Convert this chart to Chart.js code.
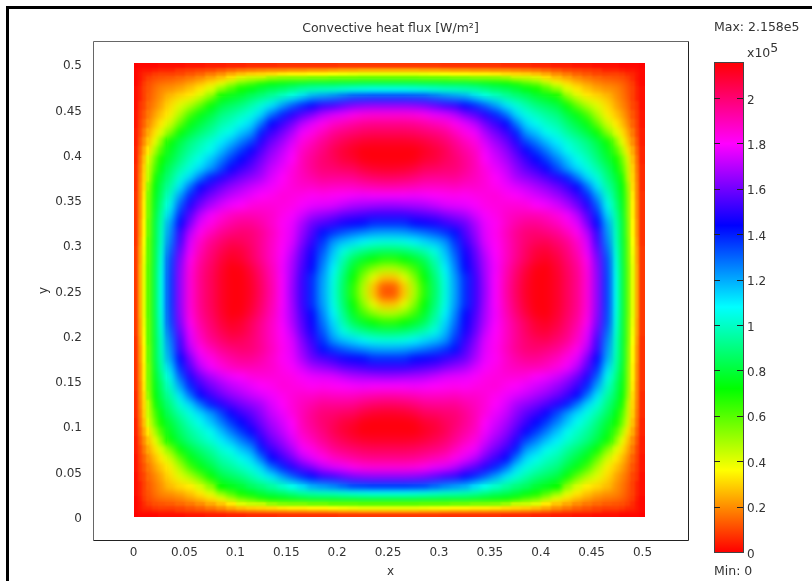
<!DOCTYPE html>
<html>
<head>
<meta charset="utf-8">
<title>Convective heat flux</title>
<script src="https://cdn.jsdelivr.net/npm/chart.js@4"></script>
<style>
    html, body { margin: 0; background: #fff; overflow: hidden; }
    #page { position: relative; width: 812px; height: 581px; }
    #edge { position: absolute; left: 6px; top: 6px; right: 0; bottom: 0; border-left: 3px solid #000; border-top: 3px solid #000; }
    #mapChart { position: absolute; left: 0; top: 0; }
    #barChart { position: absolute; left: 700px; top: 0; }
</style>
</head>
<body>
<div id="page">
    <div id="edge"></div>
    <canvas id="mapChart" width="781" height="581"></canvas>
    <canvas id="barChart" width="112" height="581"></canvas>
</div>
<script>
const xTicks = [0, 0.05, 0.1, 0.15, 0.2, 0.25, 0.3, 0.35, 0.4, 0.45, 0.5];
const yTicks = [0, 0.05, 0.1, 0.15, 0.2, 0.25, 0.3, 0.35, 0.4, 0.45, 0.5];
const barTicks = [0, 0.2, 0.4, 0.6, 0.8, 1, 1.2, 1.4, 1.6, 1.8, 2];
const fluxMin = 0;
const fluxMax = 2.158;

// cell centres, distance from the wall up to the middle of the square
const wallDist = [0.002, 0.006, 0.01, 0.015, 0.021, 0.027, 0.035, 0.045, 0.055, 0.065, 0.075, 0.085, 0.095, 0.105,
    0.115, 0.125, 0.135, 0.145, 0.155, 0.165, 0.175, 0.185, 0.195, 0.205, 0.215, 0.225, 0.235, 0.245];

// flux in 1e5 W/m2, one eighth of the square (it is symmetric)
const fluxRows = [
    [0],
    [.01, .02],
    [.01, .03, .05],
    [.01, .03, .06, .09],
    [.01, .04, .08, .11, .14],
    [.02, .05, .09, .12, .16, .19],
    [.02, .05, .09, .13, .17, .21, .27],
    [.02, .07, .10, .15, .19, .24, .31, .40],
    [.03, .08, .12, .17, .23, .28, .34, .47, .62],
    [.03, .09, .14, .20, .27, .33, .42, .58, .74, .81],
    [.04, .10, .17, .24, .32, .41, .53, .72, .81, .88, .94],
    [.04, .12, .20, .28, .39, .53, .72, .82, .90, .96, 1.02, 1.10],
    [.05, .14, .24, .33, .48, .62, .76, .86, .94, 1.00, 1.06, 1.17, 1.27],
    [.05, .16, .27, .41, .57, .70, .80, .90, .99, 1.06, 1.16, 1.26, 1.36, 1.44],
    [.06, .17, .29, .44, .62, .75, .86, .96, 1.04, 1.13, 1.22, 1.34, 1.45, 1.52, 1.57],
    [.06, .18, .30, .45, .69, .80, .90, 1.03, 1.13, 1.27, 1.40, 1.49, 1.55, 1.60, 1.64, 1.68],
    [.06, .19, .31, .51, .73, .84, .95, 1.11, 1.28, 1.44, 1.52, 1.59, 1.64, 1.68, 1.72, 1.75, 1.78],
    [.07, .19, .33, .54, .75, .87, 1.01, 1.21, 1.39, 1.52, 1.60, 1.66, 1.71, 1.74, 1.77, 1.80, 1.82, 1.85],
    [.07, .20, .34, .55, .77, .91, 1.06, 1.31, 1.49, 1.60, 1.68, 1.74, 1.78, 1.80, 1.84, 1.85, 1.85, 1.84, 1.83],
    [.07, .20, .34, .55, .79, .95, 1.13, 1.39, 1.56, 1.70, 1.78, 1.84, 1.88, 1.90, 1.90, 1.89, 1.87, 1.83, 1.79, 1.74],
    [.07, .21, .35, .57, .81, .97, 1.20, 1.44, 1.62, 1.76, 1.83, 1.89, 1.93, 1.95, 1.95, 1.92, 1.87, 1.81, 1.77, 1.68, 1.59],
    [.07, .21, .35, .57, .81, .99, 1.23, 1.51, 1.70, 1.82, 1.89, 1.95, 1.98, 2.00, 1.99, 1.95, 1.89, 1.82, 1.76, 1.65, 1.55, 1.42],
    [.07, .22, .37, .59, .81, 1.00, 1.26, 1.53, 1.75, 1.87, 1.95, 2.00, 2.04, 2.03, 2.00, 1.95, 1.88, 1.81, 1.75, 1.62, 1.51, 1.37, 1.23],
    [.08, .23, .38, .59, .82, 1.02, 1.30, 1.58, 1.77, 1.90, 1.98, 2.04, 2.08, 2.07, 2.02, 1.95, 1.88, 1.80, 1.72, 1.58, 1.47, 1.32, 1.17, 1.04],
    [.08, .23, .39, .59, .82, 1.04, 1.34, 1.62, 1.82, 1.93, 2.00, 2.07, 2.11, 2.09, 2.03, 1.96, 1.88, 1.79, 1.69, 1.56, 1.45, 1.28, 1.13, .97, .84],
    [.08, .24, .40, .60, .83, 1.05, 1.35, 1.64, 1.84, 1.95, 2.02, 2.09, 2.14, 2.13, 2.07, 1.99, 1.90, 1.78, 1.68, 1.54, 1.43, 1.25, 1.09, .92, .77, .63],
    [.08, .24, .40, .60, .83, 1.06, 1.36, 1.65, 1.85, 1.96, 2.03, 2.10, 2.14, 2.14, 2.09, 2.01, 1.91, 1.79, 1.67, 1.52, 1.38, 1.22, 1.05, .88, .72, .53, .39],
    [.08, .24, .40, .60, .83, 1.06, 1.36, 1.65, 1.85, 1.96, 2.03, 2.10, 2.14, 2.14, 2.10, 2.02, 1.92, 1.79, 1.66, 1.52, 1.38, 1.21, 1.04, .86, .67, .47, .28, .12]
];

const TEXT_COLOR = '#333';
const FONT = { family: '"DejaVu Sans"', size: 12 };
const TITLE_FONT = { family: '"DejaVu Sans"', size: 12.5, weight: 'normal' };

function fluxColor(v) {
    return `hsl(${(v - fluxMin) / (fluxMax - fluxMin) * 360}, 100%, 50%)`;
}

// centres over the whole square, the wall distances and then their mirror
const centres = wallDist.concat(wallDist.slice().reverse().map(d => 0.5 - d));
const half = wallDist.length;

function fluxAt(ix, iy) {
    const a = ix < half ? ix : 2 * half - 1 - ix;
    const b = iy < half ? iy : 2 * half - 1 - iy;
    return a >= b ? fluxRows[a][b] : fluxRows[b][a];
}

function cellGap(i) {
    const before = i > 0 ? centres[i] - centres[i - 1] : 0;
    const after = i < centres.length - 1 ? centres[i + 1] - centres[i] : 0;
    return Math.max(before, after);
}

const cells = [];
for (let iy = 0; iy < centres.length; iy++) {
    for (let ix = 0; ix < centres.length; ix++) {
        cells.push({ x: centres[ix], y: centres[iy], v: fluxAt(ix, iy), ix: ix, iy: iy });
    }
}

// scatter points can be a small canvas, that gives cells that are not square
const stamps = {};
function cellStamp(context) {
    const chart = context.chart;
    const raw = context.raw;
    if (!raw || !chart.chartArea) {
        return 'rect';
    }
    const sx = chart.scales.x;
    const sy = chart.scales.y;
    const w = Math.ceil(Math.abs(sx.getPixelForValue(cellGap(raw.ix)) - sx.getPixelForValue(0))) + 1;
    const h = Math.ceil(Math.abs(sy.getPixelForValue(cellGap(raw.iy)) - sy.getPixelForValue(0))) + 1;
    const color = fluxColor(raw.v);
    const key = color + w + '_' + h;
    if (!stamps[key]) {
        const c = document.createElement('canvas');
        c.width = w;
        c.height = h;
        const g = c.getContext('2d');
        g.fillStyle = color;
        g.fillRect(0, 0, w, h);
        stamps[key] = c;
    }
    return stamps[key];
}

const softenCells = {
    id: 'softenCells',
    afterDatasetsDraw(chart) {
        const ctx = chart.ctx;
        const sx = chart.scales.x;
        const sy = chart.scales.y;
        const left = sx.getPixelForValue(0);
        const right = sx.getPixelForValue(0.5);
        const top = sy.getPixelForValue(0.5);
        const bottom = sy.getPixelForValue(0);
        const pass = (inset, blur) => {
            ctx.save();
            ctx.beginPath();
            ctx.rect(left + inset, top + inset, right - left - 2 * inset, bottom - top - 2 * inset);
            ctx.clip();
            ctx.filter = `blur(${blur}px)`;
            ctx.drawImage(chart.canvas, 0, 0);
            ctx.restore();
        };
        pass(0, 1.2);
        pass(14, 2.5);
        pass(32, 3.2);
    }
};

const plotFrame = {
    id: 'plotFrame',
    afterDraw(chart) {
        const ctx = chart.ctx;
        const a = chart.chartArea;
        const l = Math.round(a.left) + 0.5;
        const r = Math.round(a.right) + 0.5;
        const t = Math.round(a.top) + 0.5;
        const b = Math.round(a.bottom) + 0.5;
        ctx.save();
        ctx.lineWidth = 1;
        ctx.strokeStyle = '#666';
        ctx.beginPath();
        ctx.moveTo(l, b);
        ctx.lineTo(l, t);
        ctx.lineTo(r, t);
        ctx.stroke();
        ctx.strokeStyle = '#222';
        ctx.beginPath();
        ctx.moveTo(r, t);
        ctx.lineTo(r, b);
        ctx.lineTo(l, b);
        ctx.stroke();
        ctx.restore();
    }
};

new Chart(document.getElementById('mapChart'), {
    type: 'scatter',
    data: {
        datasets: [{
            data: cells,
            pointStyle: cellStamp,
            pointRadius: 2,
            showLine: false
        }]
    },
    plugins: [softenCells, plotFrame],
    options: {
        responsive: false,
        animation: false,
        events: [],
        layout: { padding: { top: 21.5 } },
        plugins: {
            legend: { display: false },
            tooltip: { enabled: false },
            title: {
                display: true,
                text: 'Convective heat flux [W/m²]',
                color: TEXT_COLOR,
                font: TITLE_FONT,
                padding: { top: 0, bottom: 4.5 }
            }
        },
        scales: {
            x: {
                type: 'linear',
                min: -0.0413,
                max: 0.5432,
                grid: { display: false, drawTicks: false },
                border: { display: false },
                afterBuildTicks: scale => { scale.ticks = xTicks.map(value => ({ value })); },
                afterFit: scale => { scale.height = 41; },
                ticks: {
                    color: TEXT_COLOR,
                    font: FONT,
                    padding: 6,
                    labelOffset: -1.5,
                    maxRotation: 0,
                    autoSkip: false,
                    callback: value => String(+value.toFixed(2))
                },
                title: { display: true, text: 'x', color: TEXT_COLOR, font: FONT, padding: { top: 0, bottom: 2 } }
            },
            y: {
                type: 'linear',
                min: -0.0262,
                max: 0.5251,
                grid: { display: false, drawTicks: false },
                border: { display: false },
                afterBuildTicks: scale => { scale.ticks = yTicks.map(value => ({ value })); },
                afterFit: scale => { scale.width = 93; },
                ticks: {
                    color: TEXT_COLOR,
                    font: FONT,
                    padding: 11,
                    labelOffset: 2.5,
                    autoSkip: false,
                    callback: value => String(+value.toFixed(2))
                },
                title: { display: true, text: 'y', color: TEXT_COLOR, font: FONT, padding: { top: 37, bottom: 0 } }
            },
            // empty scale, keeps the plot off the right side and the title centred over it
            rightGap: {
                type: 'linear',
                position: 'right',
                grid: { display: false },
                border: { display: false },
                ticks: { display: false },
                afterFit: scale => { scale.width = 93; }
            }
        }
    }
});

function barGradient(context) {
    const chart = context.chart;
    const a = chart.chartArea;
    if (!a) {
        return '#f00';
    }
    const g = chart.ctx.createLinearGradient(0, a.bottom, 0, a.top);
    ['#f00', '#ff0', '#0f0', '#0ff', '#00f', '#f0f', '#f00'].forEach((c, i) => g.addColorStop(i / 6, c));
    return g;
}

const barMarks = {
    id: 'barMarks',
    afterDraw(chart) {
        const ctx = chart.ctx;
        const a = chart.chartArea;
        ctx.save();
        ctx.strokeStyle = '#444';
        ctx.lineWidth = 1;
        ctx.strokeRect(Math.round(a.left) + 0.5, Math.round(a.top) + 0.5, Math.round(a.right - a.left), Math.round(a.bottom - a.top));
        ctx.strokeStyle = '#222';
        ctx.beginPath();
        barTicks.slice(1).forEach(value => {
            const y = Math.round(chart.scales.y.getPixelForValue(value)) + 0.5;
            ctx.moveTo(a.left, y);
            ctx.lineTo(a.left + 6, y);
            ctx.moveTo(a.right - 6, y);
            ctx.lineTo(a.right, y);
        });
        ctx.stroke();
        // axis multiplier above the bar, the 5 raised
        ctx.fillStyle = TEXT_COLOR;
        ctx.font = '12.5px "DejaVu Sans"';
        ctx.textAlign = 'left';
        ctx.textBaseline = 'alphabetic';
        ctx.fillText('x10', a.right + 4, 56.5);
        ctx.fillText('5', a.right + 4 + ctx.measureText('x10').width, 51.5);
        ctx.restore();
    }
};

new Chart(document.getElementById('barChart'), {
    type: 'bar',
    data: {
        labels: ['flux'],
        datasets: [{
            data: [[fluxMin, fluxMax]],
            backgroundColor: barGradient,
            barPercentage: 1,
            categoryPercentage: 1
        }]
    },
    plugins: [barMarks],
    options: {
        responsive: false,
        animation: false,
        events: [],
        layout: { padding: { left: 14, top: 20.5, bottom: 1.5 } },
        plugins: {
            legend: { display: false },
            tooltip: { enabled: false },
            title: {
                display: true,
                text: 'Max: 2.158e5',
                align: 'start',
                color: TEXT_COLOR,
                font: TITLE_FONT,
                padding: { top: 0, bottom: 26.5 }
            },
            subtitle: {
                display: true,
                position: 'bottom',
                text: 'Min: 0',
                align: 'start',
                color: TEXT_COLOR,
                font: TITLE_FONT,
                padding: { top: 12.5, bottom: 0 }
            }
        },
        scales: {
            x: { display: false },
            y: {
                position: 'right',
                min: fluxMin,
                max: fluxMax,
                grid: { display: false, drawTicks: false },
                border: { display: false },
                afterBuildTicks: scale => { scale.ticks = barTicks.map(value => ({ value })); },
                afterFit: scale => { scale.width = 69; },
                ticks: {
                    color: TEXT_COLOR,
                    font: FONT,
                    padding: 4,
                    labelOffset: 2.5,
                    autoSkip: false,
                    callback: value => String(+value.toFixed(1))
                }
            }
        }
    }
});
</script>
</body>
</html>
